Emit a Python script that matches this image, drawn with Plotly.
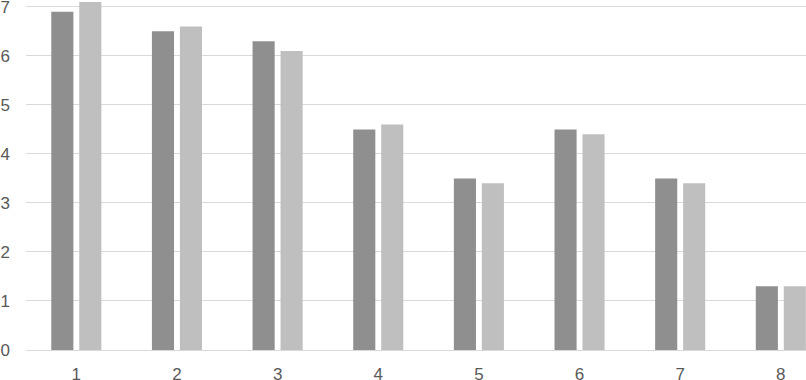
import plotly.graph_objects as go

categories = [1, 2, 3, 4, 5, 6, 7, 8]
series_a = [6.9, 6.5, 6.3, 4.5, 3.5, 4.5, 3.5, 1.3]
series_b = [7.1, 6.6, 6.1, 4.6, 3.4, 4.4, 3.4, 1.3]
y_ticks = [0, 1, 2, 3, 4, 5, 6, 7]

fig = go.Figure()
fig.add_trace(go.Bar(x=categories, y=series_a, marker=dict(color="#8f8f8f", line=dict(width=0))))
fig.add_trace(go.Bar(x=categories, y=series_b, marker=dict(color="#bfbfbf", line=dict(width=0))))

font = dict(family="Liberation Sans, Arial, sans-serif", size=17, color="#595959")
fig.update_layout(
    width=806, height=380,
    margin=dict(l=26, r=0, t=0, b=30, autoexpand=False),
    paper_bgcolor="white", plot_bgcolor="white",
    showlegend=False,
    barmode="group", bargap=0.444, bargroupgap=0.21,
    font=font,
)
fig.update_xaxes(range=[0.5, 8.25], tickvals=categories, ticktext=[str(c) for c in categories],
                 showgrid=False, zeroline=False, showline=False, ticks="", tickfont=font,
                 ticklabelstandoff=12, automargin=False, ticklabeloverflow="allow")
fig.update_yaxes(range=[0, 7.14], tickvals=y_ticks, showgrid=True, gridcolor="#d9d9d9", gridwidth=1,
                 zeroline=True, zerolinecolor="#d9d9d9", zerolinewidth=1, showline=False,
                 ticks="", tickfont=font, ticklabelstandoff=15, automargin=False,
                 ticklabeloverflow="allow")
fig.write_html("out.html", config={"displayModeBar": False},
               post_script="document.body.style.margin='0';document.body.style.overflow='hidden';")
